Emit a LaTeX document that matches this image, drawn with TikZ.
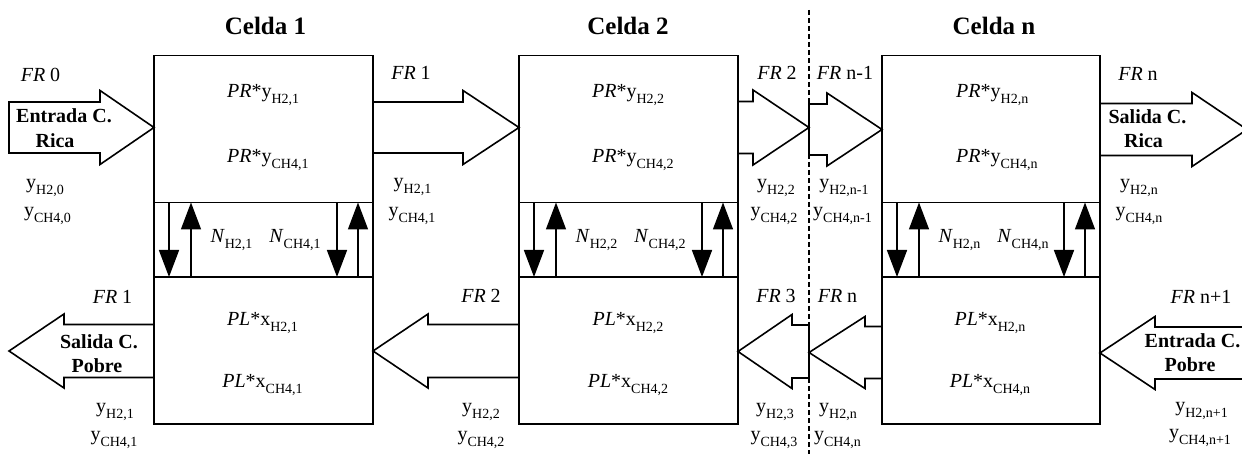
\documentclass[tikz,border=0pt]{standalone}
\usepackage{fontspec}
\setmainfont{Liberation Serif}
\usetikzlibrary{arrows.meta,calc}
\newcommand{\sbx}[1]{\raisebox{-6pt}{\fontsize{14}{14}\selectfont #1}}
\newcommand{\barrow}[6]{\draw[blkarrow] (#1,{#4-#5}) -- (#2,{#4-#5}) -- (#2,{#4-#6}) -- (#3,#4) -- (#2,{#4+#6}) -- (#2,{#4+#5}) -- (#1,{#4+#5}) -- cycle;}
\tikzset{
  cellbox/.style={draw, line width=1.6pt, minimum width=219pt, minimum height=147pt, inner sep=0pt, outer sep=0pt},
  lbl/.style={anchor=base, inner sep=0pt},
  ttl/.style={lbl, font=\fontsize{25}{30}\selectfont\bfseries},
  bl/.style={lbl, font=\fontsize{20}{24}\selectfont\bfseries},
  blkarrow/.style={draw, line width=1.6pt, line join=miter},
  mt/.style={line width=1.6pt, -{Triangle[length=27pt,width=20pt]}},
  wall/.style={line width=1.6pt},
  sep/.style={line width=1.4pt, dash pattern=on 5pt off 3pt}
}
\begin{document}
\begin{tikzpicture}[x=1pt, y=-1pt, font=\fontsize{20}{24}\selectfont]
\useasboundingbox (0,0) rectangle (1242,454);
% block arrows
\barrow{9}{100}{154}{127.5}{25.5}{37}
\barrow{373}{463}{519}{127.5}{25.5}{37}
\barrow{738}{753}{809}{127.5}{26}{37.5}
\barrow{809}{827}{882}{129.5}{25.5}{36.5}
\barrow{1100}{1192}{1247}{129.5}{26}{37}
\barrow{154}{64}{9}{351}{26.5}{37}
\barrow{519}{428}{373}{351}{26.5}{37}
\barrow{809}{792}{738}{351.5}{26.5}{37}
\barrow{882}{865}{809}{352.5}{26}{36}
\barrow{1250}{1155}{1100}{353}{26}{36.5}
% cells
\node[cellbox] (u1) at (263.5,129) {};
\node[cellbox] (l1) at (263.5,350.5) {};
\node[cellbox] (u2) at (628.5,129) {};
\node[cellbox] (l2) at (628.5,350.5) {};
\node[cellbox, minimum width=218pt] (un) at (991,129) {};
\node[cellbox, minimum width=218pt] (ln) at (991,350.5) {};
\foreach \c in {1,2,n}{
  \draw[wall] (u\c.south west) -- (l\c.north west);
  \draw[wall] (u\c.south east) -- (l\c.north east);
  \draw[mt] ($(u\c.south west)+(15,0)$) -- ($(l\c.north west)+(15,0)$);
  \draw[mt] ($(l\c.north west)+(37,0)$) -- ($(u\c.south west)+(37,0)$);
  \draw[mt] ($(u\c.south east)+(-36,0)$) -- ($(l\c.north east)+(-36,0)$);
  \draw[mt] ($(l\c.north east)+(-15,0)$) -- ($(u\c.south east)+(-15,0)$);
}
% separator
\coordinate (sepT) at (809,10);
\coordinate (sepB) at (809,454);
\draw[sep] (sepT) -- (sepB);
% titles
\node[ttl] (t1) at (265.5,35) {Celda 1};
\node[ttl] (t2) at (628,35) {Celda 2};
\node[ttl] (tn) at (994,35) {Celda n};
% inside texts
\node[lbl, anchor=base west] (p1a) at (227,98) {\textit{PR}*y\sbx{H2,1}};
\node[lbl, anchor=base west] (p1b) at (227,163) {\textit{PR}*y\sbx{CH4,1}};
\node[lbl, anchor=base west] (p2a) at (592,98) {\textit{PR}*y\sbx{H2,2}};
\node[lbl, anchor=base west] (p2b) at (592,163) {\textit{PR}*y\sbx{CH4,2}};
\node[lbl, anchor=base west] (pna) at (956,98) {\textit{PR}*y\sbx{H2,n}};
\node[lbl, anchor=base west] (pnb) at (956,163) {\textit{PR}*y\sbx{CH4,n}};
\node[lbl] (q1a) at (262.5,325) {\textit{PL}*x\sbx{H2,1}};
\node[lbl] (q1b) at (262.5,387) {\textit{PL}*x\sbx{CH4,1}};
\node[lbl] (q2a) at (628,325) {\textit{PL}*x\sbx{H2,2}};
\node[lbl] (q2b) at (628,387) {\textit{PL}*x\sbx{CH4,2}};
\node[lbl] (qna) at (990,325) {\textit{PL}*x\sbx{H2,n}};
\node[lbl] (qnb) at (990,387) {\textit{PL}*x\sbx{CH4,n}};
\node[lbl] (n1a) at (231.5,243) {\textit{N}\sbx{H2,1}};
\node[lbl] (n1b) at (295,243) {\textit{N}\sbx{CH4,1}};
\node[lbl] (n2a) at (596.5,243) {\textit{N}\sbx{H2,2}};
\node[lbl] (n2b) at (660,243) {\textit{N}\sbx{CH4,2}};
\node[lbl] (nna) at (959.5,243) {\textit{N}\sbx{H2,n}};
\node[lbl] (nnb) at (1023,243) {\textit{N}\sbx{CH4,n}};
% top outside labels
\node[lbl] (f0) at (40.5,82) {\textit{FR} 0};
\node[bl] (er1) at (64,123) {Entrada C.};
\node[bl] (er2) at (55,148) {Rica};
\node[lbl] (y0a) at (45,189) {y\sbx{H2,0}};
\node[lbl] (y0b) at (47.5,217) {y\sbx{CH4,0}};
\node[lbl] (f1) at (411,80) {\textit{FR} 1};
\node[lbl] (y1a) at (412.5,188) {y\sbx{H2,1}};
\node[lbl] (y1b) at (412,217) {y\sbx{CH4,1}};
\node[lbl] (f2) at (777,80) {\textit{FR} 2};
\node[lbl] (y2a) at (776,189) {y\sbx{H2,2}};
\node[lbl] (y2b) at (774,217) {y\sbx{CH4,2}};
\node[lbl] (fn1) at (845,80) {\textit{FR} n-1};
\node[lbl] (yn1a) at (844,189) {y\sbx{H2,n-1}};
\node[lbl] (yn1b) at (842.5,217) {y\sbx{CH4,n-1}};
\node[lbl] (fn) at (1138,81) {\textit{FR} n};
\node[bl] (sr1) at (1147.5,124) {Salida C.};
\node[bl] (sr2) at (1143.5,148) {Rica};
\node[lbl] (yna) at (1139,189) {y\sbx{H2,n}};
\node[lbl] (ynb) at (1139,217) {y\sbx{CH4,n}};
% bottom outside labels
\node[lbl] (g1) at (112.5,304) {\textit{FR} 1};
\node[bl] (sp1) at (99,348) {Salida C.};
\node[bl] (sp2) at (97,372) {Pobre};
\node[lbl] (z1a) at (115,412) {y\sbx{H2,1}};
\node[lbl] (z1b) at (114,440) {y\sbx{CH4,1}};
\node[lbl] (g2) at (481,303) {\textit{FR} 2};
\node[lbl] (z2a) at (481,412) {y\sbx{H2,2}};
\node[lbl] (z2b) at (481,440) {y\sbx{CH4,2}};
\node[lbl] (g3) at (776,303) {\textit{FR} 3};
\node[lbl] (z3a) at (775,412) {y\sbx{H2,3}};
\node[lbl] (z3b) at (774,440) {y\sbx{CH4,3}};
\node[lbl] (gn) at (837.5,303) {\textit{FR} n};
\node[lbl] (zna) at (838,412) {y\sbx{H2,n}};
\node[lbl] (znb) at (837.5,440) {y\sbx{CH4,n}};
\node[lbl] (gn1) at (1201,304) {\textit{FR} n+1};
\node[bl] (ep1) at (1192.5,347) {Entrada C.};
\node[bl] (ep2) at (1190,371) {Pobre};
\node[lbl] (zn1a) at (1201.5,411) {y\sbx{H2,n+1}};
\node[lbl] (zn1b) at (1200,438) {y\sbx{CH4,n+1}};
\end{tikzpicture}
\end{document}
